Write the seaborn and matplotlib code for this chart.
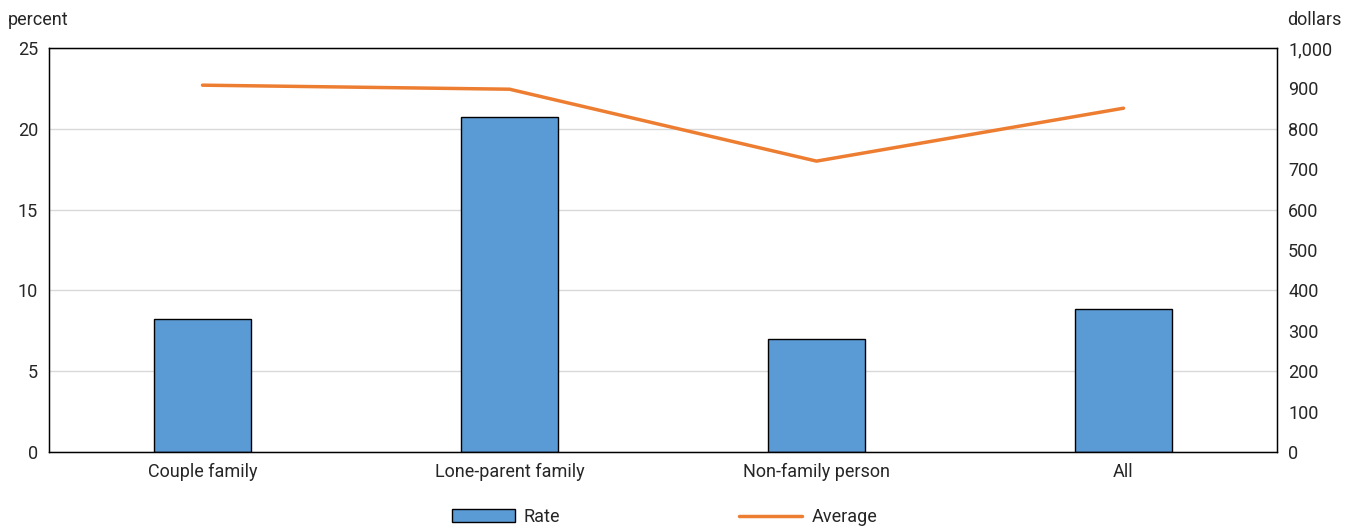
import matplotlib
matplotlib.use("Agg")
import matplotlib.pyplot as plt
import matplotlib.patches as mpatches
import matplotlib.lines as mlines
from matplotlib.ticker import FuncFormatter
import seaborn as sns
import pandas as pd

categories = ["Couple family", "Lone-parent family", "Non-family person", "All"]
rate = [8.2, 20.7, 7.0, 8.85]
average = [908, 898, 720, 851]
left_ticks = [0, 5, 10, 15, 20, 25]
right_ticks = [0, 100, 200, 300, 400, 500, 600, 700, 800, 900, 1000]

bar_color = "#5B9BD5"
line_color = "#ED7D31"

sns.set_style("white")
plt.rcParams["font.family"] = ["Roboto", "DejaVu Sans"]
plt.rcParams["font.size"] = 13

df = pd.DataFrame({"category": categories, "rate": rate, "average": average})

fig = plt.figure(figsize=(13.55, 5.27), dpi=100)
ax = fig.add_axes([49 / 1355, 1 - 452 / 527, (1277 - 49) / 1355, (452 - 48) / 527])

# bars on the left (percent) axis
sns.barplot(data=df, x="category", y="rate", ax=ax, color=bar_color,
            width=0.316, edgecolor="black", linewidth=1, saturation=1, zorder=2)
ax.set_ylim(0, 25)
ax.set_yticks(left_ticks)
ax.grid(axis="y", color="#d9d9d9", linewidth=1, zorder=0)
ax.set_axisbelow(True)
ax.set_xlabel("")
ax.set_ylabel("")
for s in ax.spines.values():
    s.set_color("black")
    s.set_linewidth(1)
ax.tick_params(axis="both", length=0, labelsize=13, pad=8)

# line on the right (dollars) axis
ax2 = ax.twinx()
sns.pointplot(data=df, x="category", y="average", ax=ax2, color=line_color,
              markers="", linestyles="-", linewidth=2.5)
ax2.set_ylim(0, 1000)
ax2.set_yticks(right_ticks)
ax2.yaxis.set_major_formatter(FuncFormatter(lambda v, p: f"{int(v):,}"))
ax2.set_ylabel("")
ax2.set_xlabel("")
ax2.tick_params(axis="y", length=0, labelsize=13, pad=8)
for s in ax2.spines.values():
    s.set_color("black")
ax.set_xlim(-0.5, 3.5)

fig.text(8 / 1355, 1 - 20 / 527, "percent", fontsize=13, va="center", ha="left")
fig.text(1341 / 1355, 1 - 20 / 527, "dollars", fontsize=13, va="center", ha="right")

h1 = mpatches.Patch(facecolor=bar_color, edgecolor="black", linewidth=1, label="Rate")
h2 = mlines.Line2D([], [], color=line_color, linewidth=2.5, label="Average")
fig.legend(handles=[h1, h2], loc="center", bbox_to_anchor=(0.4903, 10 / 527), ncol=2,
           frameon=False, fontsize=13, handlelength=3.5, handleheight=0.7,
           columnspacing=9.9, handletextpad=0.5)

fig.savefig("out.png", dpi=100)
